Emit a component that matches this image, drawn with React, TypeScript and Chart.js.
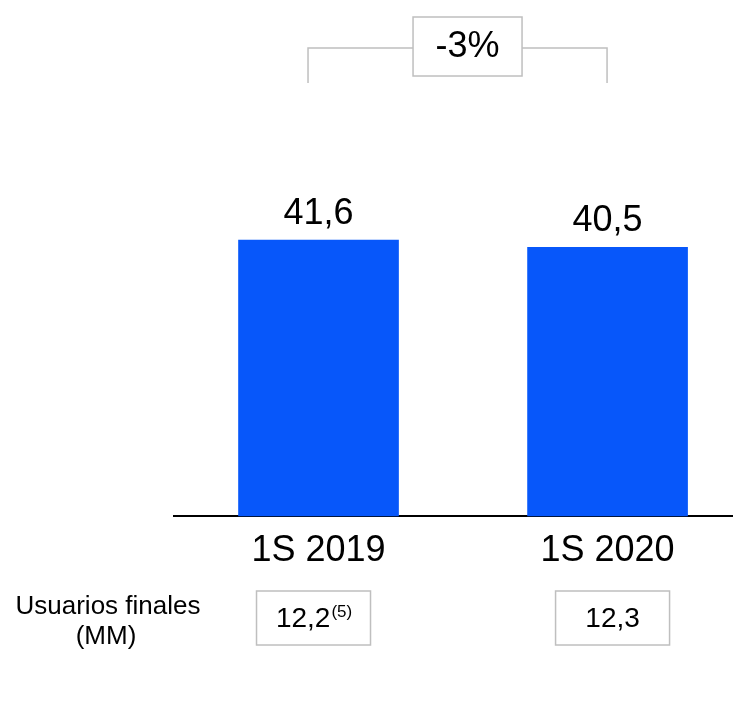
import React, { useEffect, useRef } from 'react';
import { Chart, registerables } from 'chart.js';

Chart.register(...registerables);

const categories = ['1S 2019', '1S 2020'];
const revenue = [41.6, 40.5];
const revenueLabels = ['41,6', '40,5'];
const changeLabel = '-3%';
const endUsers = ['12,2', '12,3'];
const endUserNotes = ['(5)', ''];
const endUsersTitle = ['Usuarios finales', '(MM)'];

const FONT = "'Liberation Sans', Arial, Helvetica, sans-serif";
const BAR_COLOR = '#0757FA';
const GRAY = '#BFBFBF';

const annotations = {
  id: 'annotations',
  afterDatasetsDraw(chart: any) {
    const ctx = chart.ctx as CanvasRenderingContext2D;
    const xs = chart.scales.x;
    const meta = chart.getDatasetMeta(0);
    ctx.save();
    ctx.fillStyle = '#000';

    // value labels above the bars
    ctx.font = `36px ${FONT}`;
    ctx.textAlign = 'center';
    ctx.textBaseline = 'alphabetic';
    meta.data.forEach((el: any, i: number) => {
      ctx.fillText(revenueLabels[i], el.x, el.y - 16);
    });

    // change bracket
    const x0 = xs.getPixelForValue(0);
    const x1 = xs.getPixelForValue(1);
    const lx = x0 - 10.5;
    const rx = x1 - 0.5;
    const bcx = (x0 + x1) / 2 + 4.5;
    const bw = 109;
    const bh = 59;
    const by = 17;
    const ly = 48;
    ctx.strokeStyle = GRAY;
    ctx.lineWidth = 1.5;
    ctx.beginPath();
    ctx.moveTo(lx, 83);
    ctx.lineTo(lx, ly);
    ctx.lineTo(bcx - bw / 2, ly);
    ctx.moveTo(bcx + bw / 2, ly);
    ctx.lineTo(rx, ly);
    ctx.lineTo(rx, 83);
    ctx.stroke();
    ctx.strokeRect(bcx - bw / 2, by, bw, bh);
    ctx.font = `36px ${FONT}`;
    ctx.textBaseline = 'middle';
    ctx.fillText(changeLabel, bcx, by + bh / 2 + 1);

    // end-user boxes
    const boxW = 114;
    const boxH = 54;
    const boxTop = 591;
    endUsers.forEach((txt, i) => {
      const cx = xs.getPixelForValue(i) + (i === 0 ? -5 : 5);
      ctx.strokeStyle = GRAY;
      ctx.lineWidth = 1.5;
      ctx.strokeRect(cx - boxW / 2, boxTop, boxW, boxH);
      ctx.font = `28px ${FONT}`;
      const mw = ctx.measureText(txt).width;
      ctx.font = `17px ${FONT}`;
      const nw = endUserNotes[i] ? ctx.measureText(endUserNotes[i]).width : 0;
      const start = cx - (mw + nw) / 2;
      ctx.textAlign = 'left';
      ctx.textBaseline = 'middle';
      ctx.font = `28px ${FONT}`;
      ctx.fillText(txt, start, boxTop + boxH / 2 + 1);
      if (endUserNotes[i]) {
        ctx.font = `17px ${FONT}`;
        ctx.fillText(endUserNotes[i], start + mw + 1, boxTop + boxH / 2 - 6);
      }
    });

    // row title
    ctx.textAlign = 'center';
    ctx.textBaseline = 'middle';
    ctx.font = `26px ${FONT}`;
    ctx.fillText(endUsersTitle[0], 108, 607);
    ctx.fillText(endUsersTitle[1], 106, 637);
    ctx.restore();
  },
};

export default function App() {
  const ref = useRef<HTMLCanvasElement | null>(null);
  useEffect(() => {
    if (!ref.current) return;
    const chart = new Chart(ref.current, {
      type: 'bar',
      data: {
        datasets: [
          {
            data: revenue.map((v, i) => ({ x: i, y: v })),
            backgroundColor: BAR_COLOR,
            borderWidth: 0,
            barThickness: 160,
            clip: false,
          },
        ],
      },
      options: {
        animation: false,
        responsive: true,
        maintainAspectRatio: false,
        layout: { padding: { left: 174, right: 0, top: 118, bottom: 132 } },
        plugins: { legend: { display: false }, tooltip: { enabled: false } },
        scales: {
          x: {
            type: 'linear',
            bounds: 'data',
            offset: false,
            min: -0.5,
            max: 1.434,
            grid: { display: false, drawTicks: false, offset: false },
            border: { display: true, color: '#000', width: 2 },
            afterBuildTicks: (s: any) => {
              s.ticks = categories.map((_, i) => ({ value: i }));
            },
            ticks: {
              autoSkip: false,
              maxRotation: 0,
              padding: 14,
              color: '#000',
              font: { family: FONT, size: 36 },
              callback: (v: any) => categories[v as number] ?? '',
            },
          },
          y: {
            display: false,
            min: 0,
            max: 60,
          },
        },
      },
      plugins: [annotations],
    });
    return () => chart.destroy();
  }, []);
  return (
    <div style={{ position: 'absolute', left: 0, top: 0, width: 733, height: 719, background: '#fff' }}>
      <canvas ref={ref} />
    </div>
  );
}
